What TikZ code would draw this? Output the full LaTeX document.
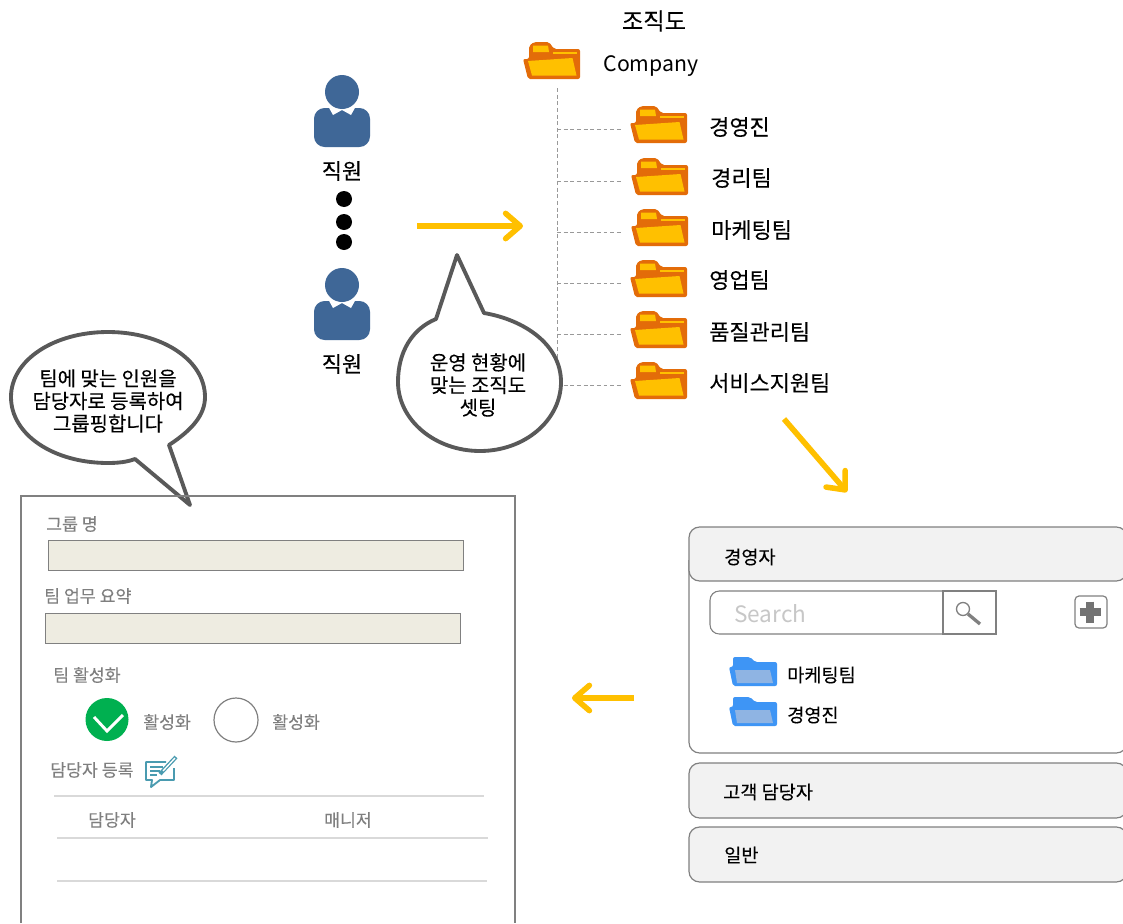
\documentclass[tikz,border=0pt]{standalone}
\usepackage{fontspec}
\setmainfont{Noto Sans CJK KR}
\newfontfamily\semi[FakeBold=0.18]{Noto Sans CJK KR}
\newfontfamily\semilight[FakeBold=0.08]{Noto Sans CJK KR}
\usetikzlibrary{arrows.meta}
\definecolor{fold}{HTML}{E36C09}
\definecolor{foldf}{HTML}{FFC000}
\definecolor{blu}{HTML}{3F6797}
\definecolor{bfold}{HTML}{3E95F5}
\definecolor{bfoldf}{HTML}{8FB4E3}
\definecolor{gtxt}{HTML}{7F7F7F}
\definecolor{panelg}{HTML}{F2F2F2}
\definecolor{fieldc}{HTML}{EEECE1}
\definecolor{iconc}{HTML}{4A9BB0}
\definecolor{checkc}{HTML}{00B050}
\newcommand{\px}{0.0264583cm}
\tikzset{x=\px,y=-\px,
  lbl/.style={inner sep=0pt,font=\semi\fontsize{16.5pt}{19pt}\selectfont,text=black},
  glbl/.style={inner sep=0pt,font=\semilight\fontsize{13pt}{15pt}\selectfont,text=gtxt},
  blbl/.style={inner sep=0pt,font=\semi\fontsize{14pt}{16pt}\selectfont,text=black},
  callout/.style={draw=black!65,line width=2.9pt,fill=white,line join=round},
  ctext/.style={inner sep=0pt,align=center,font=\semi\fontsize{15pt}{17pt}\selectfont},
  yarrow/.style={draw=foldf,line width=4.2pt,-{Straight Barb[length=11pt,width=19pt,line width=4.2pt,round]}},
  tree/.style={draw=black!40,line width=0.7pt,densely dashed},
  panel/.style={draw=black!50,line width=1pt},
  rowline/.style={draw=black!15,line width=1pt},
  field/.style={draw=black!50,fill=fieldc,line width=0.75pt}}
\newcommand{\ofolder}[2]{%
 \begin{scope}[shift={(#1,#2)}]
  \fill[fold,rounded corners=1.5pt] (-29,-1)--(-23,-1)--(-23,-14)--(-18,-18)--(-3,-18)--(2,-11)--(28,-11)--(28,19)--(-24,19)--cycle;
  \fill[foldf] (-19,-14.5)--(-4,-14.5)--(-3,-8)--(-19,-8)--cycle;
  \fill[foldf] (1,-8)--(24.5,-8)--(24.5,-6)--(1,-6)--cycle;
  \fill[foldf] (-24,1)--(20.5,-2)--(24.5,15.5)--(-20,15.5)--cycle;
 \end{scope}}
\newcommand{\bfolder}[2]{%
 \begin{scope}[shift={(#1,#2)}]
  \fill[bfold,rounded corners=1.5pt] (-20,-15)--(-3,-15)--(2,-10)--(24,-10)--(24,14)--(-20,14)--(-24,-5)--(-20,-5)--cycle;
  \fill[bfoldf] (-18,-2)--(17,-2)--(20,11)--(-16,11)--cycle;
 \end{scope}}
\newcommand{\person}[2]{%
 \begin{scope}[shift={(#1,#2)}]
  \fill[blu,rounded corners=8pt] (-28,-4) rectangle (28,35);
  \fill[white] (-14,-6)--(-9,3)--(0,-2)--(9,3)--(14,-6)--cycle;
  \fill[blu] (0,-20) circle (17);
 \end{scope}}
\begin{document}
\begin{tikzpicture}
\useasboundingbox (0,0) rectangle (1123,923);
\fill[white] (0,0) rectangle (1123,923);
% tree
\coordinate (treetop) at (557,88);
\coordinate (treebot) at (557,385);
\draw[tree] (treetop)--(treebot);
\foreach \y in {129,181,232,283,334,385}{\draw[tree] (557,\y)--(622,\y);}
% folders
\ofolder{552}{60}
\ofolder{659}{124}
\ofolder{660}{176}
\ofolder{660}{227}
\ofolder{659}{278}
\ofolder{659}{329}
\ofolder{659}{380}
\node[lbl,font=\semi\fontsize{17.5pt}{20pt}\selectfont] (title) at (654,21) {조직도};
\node[inner sep=0pt,font=\fontsize{16pt}{19pt}\selectfont] (company) at (651,66) {Company};
\node[lbl,anchor=west] (t1) at (709,127) {경영진};
\node[lbl,anchor=west] (t2) at (711,178) {경리팀};
\node[lbl,anchor=west] (t3) at (711,230) {마케팅팀};
\node[lbl,anchor=west] (t4) at (709,280) {영업팀};
\node[lbl,anchor=west] (t5) at (709,332) {품질관리팀};
\node[lbl,anchor=west] (t6) at (709,383) {서비스지원팀};
% persons
\person{342}{112}
\person{342}{305}
\node[lbl] (p1) at (342,171) {직원};
\node[lbl] (p2) at (342,364) {직원};
\foreach \y in {199,222,242}{\fill[black] (344,\y) circle (8);}
% arrows
\coordinate (a1s) at (417,226); \coordinate (a1e) at (523,226);
\draw[yarrow] (a1s)--(a1e);
\coordinate (a2s) at (784,419); \coordinate (a2e) at (847,492);
\draw[yarrow] (a2s)--(a2e);
\coordinate (a3s) at (634,698); \coordinate (a3e) at (572,698);
\draw[yarrow] (a3s)--(a3e);
% callouts
\draw[callout] (436,319) -- (457,255) -- (484,313)
  .. controls (525,320) and (561,345) .. (561,382)
  .. controls (561,420) and (525,451) .. (480,451)
  .. controls (435,451) and (398,420) .. (398,382)
  .. controls (398,352) and (412,329) .. (436,319) -- cycle;
\node[ctext] (c1) at (478,385) {운영 현황에\\맞는 조직도\\셋팅};
\draw[callout] (135,459) -- (190,505) -- (169,445)
  .. controls (192,430) and (205,415) .. (205,397)
  .. controls (205,360) and (162,332) .. (108,332)
  .. controls (54,332) and (11,360) .. (11,397)
  .. controls (11,435) and (54,463) .. (108,463)
  .. controls (118,463) and (127,462) .. (135,459) -- cycle;
\node[ctext] (c2) at (108,401) {팀에 맞는 인원을\\담당자로 등록하여\\그룹핑합니다};
% form
\draw[panel] (21,923)--(21,496)--(515,496)--(515,923);
\node[glbl,anchor=west] (f1) at (46,524) {그룹 명};
\draw[field] (48,540) rectangle (463,570);
\node[glbl,anchor=west] (f2) at (44,596) {팀 업무 요약};
\draw[field] (45,613) rectangle (460,643);
\node[glbl,anchor=west] (f3) at (53,675) {팀 활성화};
\fill[checkc] (107,719.5) circle (21.5);
\draw[white,line width=2.2pt] (94,717)--(107,731)--(123,715);
\node[glbl,anchor=west] (r1) at (143,722) {활성화};
\draw[black!50,line width=0.9pt] (236,720) circle (22);
\node[glbl,anchor=west] (r2) at (272,722) {활성화};
\node[glbl,anchor=west] (f4) at (50,770) {담당자 등록};
\draw[iconc,line width=1.4pt,line join=round] (166,762)--(146,762)--(146,780)--(152,780)--(151,787)--(160,780)--(174,780)--(174,768);
\draw[iconc,line width=0.9pt] (150,767)--(163,767) (150,771)--(160,771) (150,775)--(157,775);
\draw[iconc,line width=3pt] (160,774)--(176,757);
\draw[white,line width=1pt] (163,771)--(175,758);
\draw[rowline] (54,796)--(484,796);
\node[glbl] (h1) at (112,820) {담당자};
\node[glbl] (h2) at (348,820) {매니저};
\draw[rowline] (57,838)--(488,838);
\draw[rowline] (57,881)--(487,881);
% accordion
\draw[panel,line width=0.9pt,rounded corners=8pt] (689,560)--(689,753)--(1127,753)--(1127,540);
\draw[panel,fill=panelg,line width=0.9pt,rounded corners=8pt] (689,581)--(689,527)--(1127,527)--(1127,581)--cycle;
\node[blbl,anchor=west] (s1) at (724,557) {경영자};
\draw[panel,fill=panelg,line width=0.9pt,rounded corners=8pt] (689,763) rectangle (1127,818);
\node[blbl,anchor=west] (s2) at (723,792) {고객 담당자};
\draw[panel,fill=panelg,line width=0.9pt,rounded corners=8pt] (689,827) rectangle (1127,882);
\node[blbl,anchor=west] (s3) at (724,855) {일반};
% search
\draw[panel,line width=0.8pt,rounded corners=7pt] (943,591)--(710,591)--(710,634)--(943,634);
\draw[panel,line width=0.8pt] (943,591)--(996,591)--(996,634)--(943,634)--cycle;
\node[inner sep=0pt,anchor=west,font=\fontsize{17pt}{20pt}\selectfont,text=black!22] (search) at (734,614) {Search};
\draw[black!50,line width=1pt] (963,609) circle (6.5);
\draw[black!50,line width=2.5pt] (968,614)--(980,624);
\draw[black!50,line width=0.9pt,fill=white,rounded corners=3pt] (1075,596) rectangle (1107,628);
\draw[black!55,line width=5.5pt] (1090,601.5)--(1090,622.5) (1079.5,612)--(1100.5,612);
\bfolder{753}{672}
\bfolder{753}{712}
\node[blbl,anchor=west] (b1) at (787,675) {마케팅팀};
\node[blbl,anchor=west] (b2) at (787,715) {경영진};
\end{tikzpicture}
\end{document}
